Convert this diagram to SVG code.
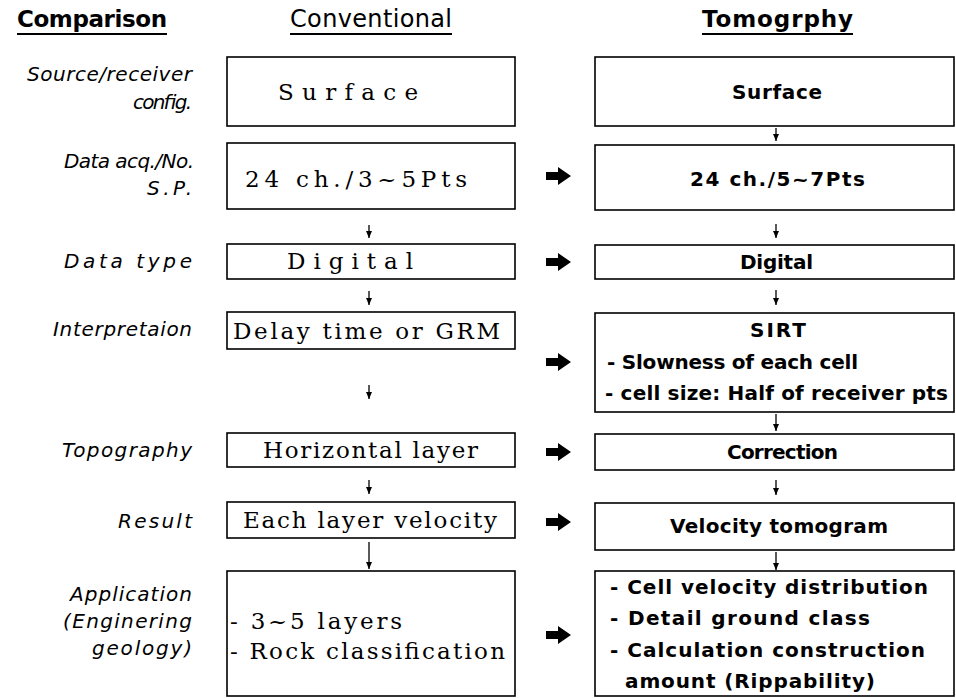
<svg xmlns="http://www.w3.org/2000/svg" width="956" height="698" viewBox="0 0 956 698">
<defs>
<marker id="ah" markerUnits="userSpaceOnUse" markerWidth="8" markerHeight="8" refX="7" refY="3" orient="auto">
<path d="M0,0 L7,3 L0,6 z" fill="#000"/>
</marker>
<path id="big" d="M0,-4 h12 v-5 l13,9 l-13,9 v-5 h-12 z"/>
</defs>
<style>
.box{fill:#fff;stroke:#000;stroke-width:1.6}
.hd{font-family:"DejaVu Sans","Liberation Sans",sans-serif;font-size:24px;fill:#000}
.hb{font-family:"DejaVu Sans","Liberation Sans",sans-serif;font-size:23px;font-weight:bold;fill:#000}
.lb{font-family:"DejaVu Sans","Liberation Sans",sans-serif;font-size:20px;font-style:italic;fill:#000}
.cv{font-family:"DejaVu Serif","Liberation Serif",serif;font-size:23px;fill:#000}
.tm{font-family:"DejaVu Sans","Liberation Sans",sans-serif;font-size:20px;font-weight:bold;fill:#000}
.ul{stroke:#000;stroke-width:2}
.sa{stroke:#000;stroke-width:1.3;fill:none;marker-end:url(#ah)}
</style>
<rect width="956" height="698" fill="#fff"/>

<g id="headers">
<text class="hb" x="17" y="27" textLength="150" lengthAdjust="spacing">Comparison</text>
<line class="ul" x1="17" y1="34" x2="167" y2="34"/>
<text class="hd" x="290" y="27" textLength="162" lengthAdjust="spacing">Conventional</text>
<line class="ul" x1="290" y1="34" x2="452" y2="34"/>
<text class="hb" x="702" y="27" textLength="151" lengthAdjust="spacing">Tomogrphy</text>
<line class="ul" x1="702" y1="34" x2="853" y2="34"/>
</g>

<g id="labels">
<text class="lb" x="27" y="81" textLength="165" lengthAdjust="spacing">Source/receiver</text>
<text class="lb" x="133" y="109" textLength="59" lengthAdjust="spacing">config.</text>
<text class="lb" x="64" y="168" textLength="130" lengthAdjust="spacing">Data acq./No.</text>
<text class="lb" x="147" y="195" textLength="45" lengthAdjust="spacing">S.P.</text>
<text class="lb" x="64" y="268" textLength="128" lengthAdjust="spacing">Data type</text>
<text class="lb" x="53" y="336" textLength="139" lengthAdjust="spacing">Interpretaion</text>
<text class="lb" x="62" y="457" textLength="130" lengthAdjust="spacing">Topography</text>
<text class="lb" x="118" y="528" textLength="74" lengthAdjust="spacing">Result</text>
<text class="lb" x="70" y="601" textLength="122" lengthAdjust="spacing">Application</text>
<text class="lb" x="63" y="628" textLength="129" lengthAdjust="spacing">(Enginering</text>
<text class="lb" x="92" y="655" textLength="100" lengthAdjust="spacing">geology)</text>
</g>

<g id="conv-config">
<rect class="box" x="227" y="57" width="288" height="69"/>
<text class="cv" x="278" y="100" textLength="140" lengthAdjust="spacing">Surface</text>
</g>
<g id="conv-acq">
<rect class="box" x="227" y="143" width="288" height="66"/>
<text class="cv" x="245" y="187" textLength="222" lengthAdjust="spacing">24 ch./3~5Pts</text>
</g>
<g id="conv-type">
<rect class="box" x="227" y="244" width="288" height="35"/>
<text class="cv" x="287" y="269" textLength="126" lengthAdjust="spacing">Digital</text>
</g>
<g id="conv-interp">
<rect class="box" x="227" y="312" width="288" height="37"/>
<text class="cv" x="233" y="339" textLength="267" lengthAdjust="spacing">Delay time or GRM</text>
</g>
<g id="conv-topo">
<rect class="box" x="227" y="433" width="288" height="34"/>
<text class="cv" x="263" y="458" textLength="215" lengthAdjust="spacing">Horizontal layer</text>
</g>
<g id="conv-result">
<rect class="box" x="227" y="502" width="288" height="36"/>
<text class="cv" x="243" y="528" textLength="254" lengthAdjust="spacing">Each layer velocity</text>
</g>
<g id="conv-app">
<rect class="box" x="227" y="571" width="288" height="125"/>
<text class="cv" x="230" y="629" textLength="172" lengthAdjust="spacing">- 3~5 layers</text>
<text class="cv" x="230" y="659" textLength="275" lengthAdjust="spacing">- Rock classification</text>
</g>

<g id="tomo-config">
<rect class="box" x="595" y="57" width="359" height="69"/>
<text class="tm" x="732" y="99" textLength="90" lengthAdjust="spacing">Surface</text>
</g>
<g id="tomo-acq">
<rect class="box" x="595" y="145" width="359" height="65"/>
<text class="tm" x="690" y="186" textLength="175" lengthAdjust="spacing">24 ch./5~7Pts</text>
</g>
<g id="tomo-type">
<rect class="box" x="595" y="245" width="359" height="34"/>
<text class="tm" x="740" y="269" textLength="73" lengthAdjust="spacing">Digital</text>
</g>
<g id="tomo-interp">
<rect class="box" x="595" y="313" width="359" height="99"/>
<text class="tm" x="750" y="337" textLength="56" lengthAdjust="spacing">SIRT</text>
<text class="tm" x="607" y="369" textLength="251" lengthAdjust="spacing">- Slowness of each cell</text>
<text class="tm" x="605" y="400" textLength="343" lengthAdjust="spacing">- cell size: Half of receiver pts</text>
</g>
<g id="tomo-topo">
<rect class="box" x="595" y="434" width="359" height="36"/>
<text class="tm" x="727" y="459" textLength="111" lengthAdjust="spacing">Correction</text>
</g>
<g id="tomo-result">
<rect class="box" x="595" y="503" width="359" height="47"/>
<text class="tm" x="670" y="533" textLength="218" lengthAdjust="spacing">Velocity tomogram</text>
</g>
<g id="tomo-app">
<rect class="box" x="595" y="571" width="359" height="125"/>
<text class="tm" x="610" y="594" textLength="318" lengthAdjust="spacing">- Cell velocity distribution</text>
<text class="tm" x="610" y="625" textLength="260" lengthAdjust="spacing">- Detail ground class</text>
<text class="tm" x="610" y="657" textLength="315" lengthAdjust="spacing">- Calculation construction</text>
<text class="tm" x="625" y="688" textLength="250" lengthAdjust="spacing">amount (Rippability)</text>
</g>

<g id="connectors">
<path class="sa" d="M369,225 V238"/>
<path class="sa" d="M369,291 V305"/>
<path class="sa" d="M369,385 V399"/>
<path class="sa" d="M369,480 V494"/>
<path class="sa" d="M369,542 V569"/>
<path class="sa" d="M776,128 V141"/>
<path class="sa" d="M776,224 V238"/>
<path class="sa" d="M776,290 V305"/>
<path class="sa" d="M776,414 V431"/>
<path class="sa" d="M776,480 V495"/>
<path class="sa" d="M776,552 V570"/>
<use href="#big" x="546" y="176"/>
<use href="#big" x="546" y="262"/>
<use href="#big" x="546" y="362"/>
<use href="#big" x="546" y="452"/>
<use href="#big" x="546" y="522"/>
<use href="#big" x="546" y="635"/>
</g>
</svg>
